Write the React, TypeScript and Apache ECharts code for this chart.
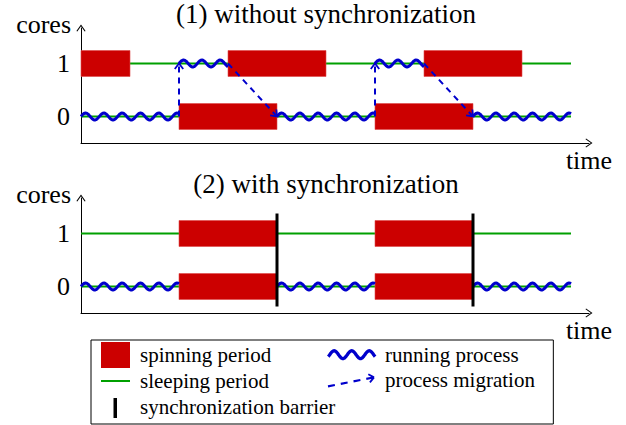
import React, { useEffect, useRef } from 'react';
import * as echarts from 'echarts';

// ---------- data ----------
// time runs 0..10 in both panels, cores are 0 and 1
const coreTicks = [0, 1];
const panelTitles = ['(1) without synchronization', '(2) with synchronization'];
const axisNames = { x: 'time', y: 'cores' };

// [start, end, core]
const spinning1 = [[0, 1, 1], [3, 5, 1], [7, 9, 1], [2, 4, 0], [6, 8, 0]];
const sleeping1 = [[0, 10, 1], [0, 10, 0]];
const running1 = [[0, 2, 0], [2, 3, 1], [4, 6, 0], [6, 7, 1], [8, 10, 0]];
// [fromTime, fromCore, toTime, toCore]
const migration1 = [[2, 0, 2, 1], [3, 1, 4, 0], [6, 0, 6, 1], [7, 1, 8, 0]];

const spinning2 = [[2, 4, 1], [2, 4, 0], [6, 8, 1], [6, 8, 0]];
const sleeping2 = [[0, 10, 1], [0, 10, 0]];
const running2 = [[0, 2, 0], [4, 6, 0], [8, 10, 0]];
// [time, lowCore, highCore]
const barrier2 = [[4, 0, 1], [8, 0, 1]];

const legendLeft = ['spinning period', 'sleeping period', 'synchronization barrier'];
const legendRight = ['running process', 'process migration'];

// ---------- styles ----------
const FONT = 'Liberation Serif';
const RED = '#cc0000';
const GREEN = '#00a000';
const BLUE = '#0000cc';
const BLACK = '#000000';
const BAR_HALF = 13;
const BARRIER_EXT = 20;
const WAVE_AMP = 3.5;
const WAVE_PERIOD = 18.3;

const f = (n: number) => (Math.round(n * 100) / 100).toString();
const bbox = (w: number, h: number) => `M0,0 L0,0 M${w},${h} L${w},${h} `;
const rectPoly = (x: number, y: number, w: number, h: number) =>
  `M${f(x)},${f(y)} L${f(x + w)},${f(y)} L${f(x + w)},${f(y + h)} L${f(x)},${f(y + h)} Z `;
const thickSeg = (a: number[], b: number[], w: number) => {
  const dx = b[0] - a[0], dy = b[1] - a[1];
  const L = Math.hypot(dx, dy);
  const nx = (-dy / L) * w / 2, ny = (dx / L) * w / 2;
  return `M${f(a[0] + nx)},${f(a[1] + ny)} L${f(b[0] + nx)},${f(b[1] + ny)} L${f(b[0] - nx)},${f(b[1] - ny)} L${f(a[0] - nx)},${f(a[1] - ny)} Z `;
};

function waveIcon() {
  const up: number[][] = [], lo: number[][] = [];
  const A = 4, P = 18, hw = 1.7, cy = 13;
  for (let x = 0; x <= 48.001; x += 0.5) {
    const ph = (2 * Math.PI * (x - 1.5)) / P;
    const y = cy - A * Math.sin(ph);
    const d = -A * (2 * Math.PI / P) * Math.cos(ph);
    const len = Math.hypot(d, 1);
    const nx = -d / len, ny = 1 / len;
    up.push([x - nx * hw, y - ny * hw]);
    lo.push([x + nx * hw, y + ny * hw]);
  }
  let p = `M${f(up[0][0])},${f(up[0][1])} `;
  for (let i = 1; i < up.length; i++) p += `L${f(up[i][0])},${f(up[i][1])} `;
  for (let i = lo.length - 1; i >= 0; i--) p += `L${f(lo[i][0])},${f(lo[i][1])} `;
  return 'path://' + bbox(53, 26) + p + 'Z';
}

function dashArrowIcon() {
  const a = [1, 19], b = [47, 10];
  const dx = b[0] - a[0], dy = b[1] - a[1];
  const L = Math.hypot(dx, dy);
  const ux = dx / L, uy = dy / L;
  let p = '';
  for (let s = 0; s < L; s += 13) {
    const e = Math.min(s + 7, L);
    p += thickSeg([a[0] + ux * s, a[1] + uy * s], [a[0] + ux * e, a[1] + uy * e], 2.2);
  }
  const ang = Math.atan2(dy, dx);
  for (const sg of [-0.7, 0.7]) {
    const q = [b[0] - 6.5 * Math.cos(ang + sg), b[1] - 6.5 * Math.sin(ang + sg)];
    p += thickSeg(q, b, 1.8);
  }
  return 'path://' + bbox(53, 26) + p;
}

const iconSpin = 'path://' + bbox(34, 26) + rectPoly(0, 0, 29, 26);
const iconSleep = 'path://' + bbox(34, 26) + rectPoly(0, 12, 29, 2);
const iconBarrier = 'path://' + bbox(34, 26) + rectPoly(12.5, 4, 3.5, 20);
const arrowHead = 'path://M0,7 L5,0 L10,7 L9,7.6 L5,1.8 L1,7.6 Z';

// ---------- renderers ----------
const renderSpin = (_p: any, api: any) => {
  const s = api.coord([api.value(0), api.value(2)]);
  const e = api.coord([api.value(1), api.value(2)]);
  return {
    type: 'rect',
    shape: { x: s[0], y: s[1] - BAR_HALF, width: e[0] - s[0], height: BAR_HALF * 2 },
    style: { fill: RED, stroke: '#dd4a4a', lineWidth: 0.6 },
  };
};

const renderSleep = (_p: any, api: any) => {
  const s = api.coord([api.value(0), api.value(2)]);
  const e = api.coord([api.value(1), api.value(2)]);
  return {
    type: 'line',
    shape: { x1: s[0], y1: s[1], x2: e[0], y2: e[1] },
    style: { stroke: GREEN, lineWidth: 2 },
  };
};

const renderWave = (_p: any, api: any) => {
  const s = api.coord([api.value(0), api.value(2)]);
  const e = api.coord([api.value(1), api.value(2)]);
  const len = e[0] - s[0];
  const pts: number[][] = [];
  for (let d = 0; d < len; d += 1) {
    pts.push([s[0] + d, s[1] - WAVE_AMP * Math.sin((2 * Math.PI * d) / WAVE_PERIOD)]);
  }
  pts.push([e[0], s[1] - WAVE_AMP * Math.sin((2 * Math.PI * len) / WAVE_PERIOD)]);
  return {
    type: 'polyline',
    shape: { points: pts },
    style: { stroke: BLUE, lineWidth: 3, fill: 'none', lineJoin: 'round' },
  };
};

const renderMigration = (_p: any, api: any) => {
  const a = api.coord([api.value(0), api.value(1)]);
  const b = api.coord([api.value(2), api.value(3)]);
  const ang = Math.atan2(b[1] - a[1], b[0] - a[0]);
  const L = 7, sp = 0.65;
  const p1 = [b[0] - L * Math.cos(ang - sp), b[1] - L * Math.sin(ang - sp)];
  const p2 = [b[0] - L * Math.cos(ang + sp), b[1] - L * Math.sin(ang + sp)];
  return {
    type: 'group',
    children: [
      {
        type: 'line',
        shape: { x1: a[0], y1: a[1], x2: b[0], y2: b[1] },
        style: { stroke: BLUE, lineWidth: 2, lineDash: [6, 5] },
      },
      {
        type: 'polyline',
        shape: { points: [p1, b, p2] },
        style: { stroke: BLUE, lineWidth: 1.8, fill: 'none' },
      },
    ],
  };
};

const renderBarrier = (_p: any, api: any) => {
  const lo = api.coord([api.value(0), api.value(1)]);
  const hi = api.coord([api.value(0), api.value(2)]);
  return {
    type: 'line',
    shape: { x1: hi[0], y1: hi[1] - BARRIER_EXT, x2: lo[0], y2: lo[1] + BARRIER_EXT },
    style: { stroke: BLACK, lineWidth: 3 },
  };
};

function panelSeries(idx: number, spinning: number[][], sleeping: number[][], running: number[][], migration: number[][], barrier: number[][]) {
  const base = { type: 'custom', xAxisIndex: idx, yAxisIndex: idx, coordinateSystem: 'cartesian2d', silent: true, clip: false };
  const out: any[] = [
    { ...base, name: 'sleeping period', data: sleeping, encode: { x: [0, 1], y: 2 }, renderItem: renderSleep, z: 1, itemStyle: { color: GREEN } },
    { ...base, name: 'spinning period', data: spinning, encode: { x: [0, 1], y: 2 }, renderItem: renderSpin, z: 2, itemStyle: { color: RED } },
    { ...base, name: 'running process', data: running, encode: { x: [0, 1], y: 2 }, renderItem: renderWave, z: 3, itemStyle: { color: BLUE } },
  ];
  if (migration.length) out.push({ ...base, name: 'process migration', data: migration, encode: { x: [0, 2], y: [1, 3] }, renderItem: renderMigration, z: 4, itemStyle: { color: BLUE } });
  if (barrier.length) out.push({ ...base, name: 'synchronization barrier', data: barrier, encode: { x: 0, y: [1, 2] }, renderItem: renderBarrier, z: 5, itemStyle: { color: BLACK } });
  return out;
}

const X_MAX = 508 / 49;
const textBase = { fontFamily: FONT, color: BLACK, fontWeight: 'normal' as const };

function xAxis(idx: number) {
  return {
    type: 'value', gridIndex: idx, min: 0, max: X_MAX,
    axisLine: { show: true, onZero: false, lineStyle: { color: BLACK, width: 1 }, symbol: ['none', arrowHead], symbolSize: [10, 7] },
    axisTick: { show: false }, axisLabel: { show: false }, splitLine: { show: false },
    name: axisNames.x, nameLocation: 'end', nameGap: 0,
    nameTextStyle: { ...textBase, fontSize: 26, align: 'center', verticalAlign: 'top', padding: [4, 0, 0, 0] },
  };
}
function yAxis(idx: number) {
  return {
    type: 'value', gridIndex: idx, min: -0.5, max: 1.67,
    axisLine: { show: true, onZero: false, lineStyle: { color: BLACK, width: 1 }, symbol: ['none', arrowHead], symbolSize: [10, 7] },
    axisTick: { show: false }, splitLine: { show: false },
    axisLabel: { customValues: coreTicks, ...textBase, fontSize: 26, margin: 11 },
    name: axisNames.y, nameLocation: 'end', nameGap: 4,
    nameTextStyle: { ...textBase, fontSize: 26, align: 'right', verticalAlign: 'middle', padding: [0, 10, 0, 0] },
  };
}

const legendIcons: Record<string, { icon: string; color: string }> = {
  'spinning period': { icon: iconSpin, color: RED },
  'sleeping period': { icon: iconSleep, color: GREEN },
  'synchronization barrier': { icon: iconBarrier, color: BLACK },
  'running process': { icon: waveIcon(), color: BLUE },
  'process migration': { icon: dashArrowIcon(), color: BLUE },
};
const legendData = (names: string[]) =>
  names.map((n) => ({ name: n, icon: legendIcons[n].icon, itemStyle: { color: legendIcons[n].color, borderWidth: 0 } }));

const option: any = {
  animation: false,
  backgroundColor: '#ffffff',
  title: panelTitles.map((t, i) => ({
    text: t, left: 326, top: i === 0 ? 0 : 170, textAlign: 'center', padding: 0,
    textStyle: { ...textBase, fontSize: 27 },
  })),
  grid: [
    { left: 81, top: 28, width: 508, height: 115 },
    { left: 81, top: 198, width: 508, height: 115 },
  ],
  xAxis: [xAxis(0), xAxis(1)],
  yAxis: [yAxis(0), yAxis(1)],
  legend: [
    {
      orient: 'vertical', left: 91, top: 340, itemWidth: 34, itemHeight: 26, itemGap: 0,
      padding: [2, 218, 4, 10], borderColor: BLACK, borderWidth: 1, selectedMode: false,
      textStyle: { ...textBase, fontSize: 21 }, data: legendData(legendLeft),
    },
    {
      orient: 'vertical', left: 327, top: 342, itemWidth: 53, itemHeight: 26, itemGap: 0,
      padding: 0, selectedMode: false,
      textStyle: { ...textBase, fontSize: 21 }, data: legendData(legendRight),
    },
  ],
  series: [
    ...panelSeries(0, spinning1, sleeping1, running1, migration1, []),
    ...panelSeries(1, spinning2, sleeping2, running2, [], barrier2),
  ],
};

export default function App() {
  const ref = useRef<HTMLDivElement>(null);
  useEffect(() => {
    const chart = echarts.init(ref.current as HTMLDivElement, null, { renderer: 'svg' });
    chart.setOption(option);
    return () => chart.dispose();
  }, []);
  return <div ref={ref} style={{ position: 'fixed', left: 0, top: 0, width: 626, height: 425, background: '#fff' }} />;
}
